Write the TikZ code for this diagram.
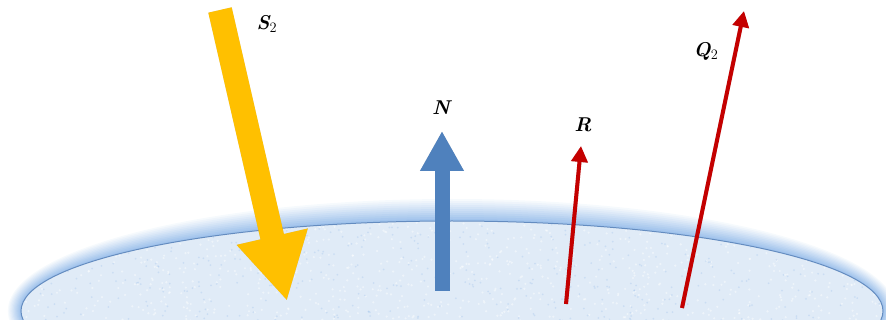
\documentclass[tikz,border=0pt]{standalone}
\usetikzlibrary{arrows.meta}
\definecolor{sunyellow}{RGB}{255,192,0}
\definecolor{normalblue}{RGB}{79,129,189}
\definecolor{rayred}{RGB}{196,0,0}
\definecolor{glowblue}{RGB}{140,182,232}
\definecolor{icefill}{RGB}{224,235,247}
\definecolor{rimblue}{RGB}{100,140,192}

\begin{document}
\begin{tikzpicture}[x=1pt, y=-1pt,
    lbl/.style={font=\fontsize{20}{24}\selectfont\bfseries\itshape, inner sep=0pt},
    sun/.style={sunyellow, line width=24pt, -{Triangle[length=66pt, width=68pt]}},
    nrm/.style={normalblue, line width=15pt, -{Triangle[length=40pt, width=41pt]}},
    ray/.style={rayred, line width=4pt, -{Triangle[length=16pt, width=16pt]}}
]
\useasboundingbox (0,0) rectangle (886,320);
\clip (0,0) rectangle (886,320);

% Surface with its glow
\coordinate (surf) at (452,311);
\foreach \k in {22,20,...,2} {
  \pgfmathsetmacro\rx{431+0.6*\k}
  \pgfmathsetmacro\ry{90+\k}
  \pgfmathsetmacro\p{90*(1-\k/24)}
  \fill[glowblue!\p!white] (surf) ellipse [x radius=\rx pt, y radius=\ry pt];
}
\fill[icefill] (surf) ellipse [x radius=431pt, y radius=90pt];
\begin{scope}
  \clip (surf) ellipse [x radius=431pt, y radius=90pt];
  \pgfmathsetseed{7}
  \foreach \i in {1,...,900}
    \fill[white, opacity=0.45] ({20+rnd*866},{215+rnd*110}) circle (1.2pt);
  \foreach \i in {1,...,500}
    \fill[glowblue, opacity=0.25] ({20+rnd*866},{215+rnd*110}) circle (1pt);
\end{scope}
\draw[rimblue, line width=1pt] (surf) ellipse [x radius=431pt, y radius=90pt];

% End points
\coordinate (s2tail) at (220,10);
\coordinate (s2tip) at (287,301);
\coordinate (ntail) at (442,291);
\coordinate (ntip) at (442,131);
\coordinate (rtail) at (566,304);
\coordinate (rtip) at (581,146);
\coordinate (q2tail) at (682,308);
\coordinate (q2tip) at (744,11);

% Shadows
\begin{scope}[shift={(2,2)}, opacity=0.15]
  \draw[sun, black] (s2tail) -- (s2tip);
  \draw[nrm, black] (ntail) -- (ntip);
  \draw[ray, black] (rtail) -- (rtip);
  \draw[ray, black] (q2tail) -- (q2tip);
\end{scope}

% Arrows
\draw[sun] (s2tail) -- (s2tip);
\draw[nrm] (ntail) -- (ntip);
\draw[ray] (rtail) -- (rtip);
\draw[ray] (q2tail) -- (q2tip);

% Labels
\node[lbl] (s2) at (267,24) {S$_2$};
\node[lbl] (n) at (441,108) {N};
\node[lbl] (r) at (583,125) {R};
\node[lbl] (q2) at (706,51) {Q$_2$};

\end{tikzpicture}
\end{document}
